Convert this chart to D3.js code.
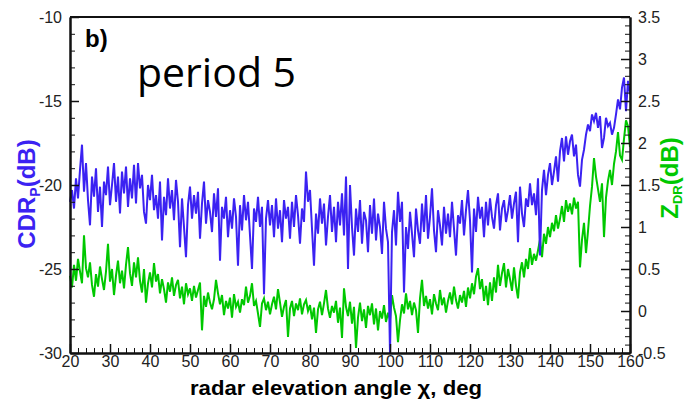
<!DOCTYPE html>
<meta charset="utf-8">
<style>
  body { margin: 0; background: #fff; }
  .axis text { font-family: "Liberation Sans", Arial, sans-serif; font-size: 16px; fill: #222; }
  .axis path, .axis line { stroke: #111; }
  .axis path { stroke-width: 2px; }
  .axis line { stroke-width: 1.5px; }
  .minor line { stroke-width: 1px; }
  .title { font-family: "Liberation Sans", Arial, sans-serif; font-weight: bold; }
</style>
<svg width="684" height="401"></svg>
<script src="https://d3js.org/d3.v7.min.js"></script>
<script>
var svg = d3.select("svg");

// x grid: radar elevation angle, every 0.5 deg from 20 to 160
var angles = d3.range(0, 281).map(function(i) { return 20 + i * 0.5; });

// CDR_P (dB), left axis
var cdr = [
  -21.0, -20.3, -21.4, -19.6, -20.8, -19.1, -17.6, -20.4, -18.7, -20.9,
  -22.4, -19.5, -20.7, -19.0, -21.6, -20.1, -22.5, -19.8, -20.6, -18.9,
  -21.2, -20.0, -18.7, -21.0, -19.5, -21.7, -19.2, -20.5, -18.9, -21.3,
  -19.6, -20.8, -18.8, -21.1, -18.7, -20.2, -19.4, -21.6, -22.3, -20.0,
  -20.9, -19.4, -21.5, -20.6, -22.0, -19.8, -23.3, -20.7, -21.8, -19.6,
  -21.4, -20.3, -22.1, -19.7, -21.0, -23.7, -20.8, -22.5, -24.3, -21.2,
  -20.1, -22.0, -20.6, -21.7, -20.4, -23.2, -21.1, -19.8, -22.3, -20.9,
  -21.6, -22.8, -20.5, -21.9, -20.2, -24.5, -21.3, -22.0, -20.7, -23.1,
  -21.5, -22.6, -20.8, -21.9, -24.8, -21.2, -22.7, -20.6, -22.1, -21.0,
  -23.0, -25.0, -21.4, -22.2, -20.7, -22.5, -21.3, -26.5, -22.0, -20.9,
  -22.4, -21.2, -23.1, -20.8, -22.6, -21.5, -23.4, -20.9, -22.0, -21.3,
  -23.2, -21.0, -22.5, -20.6, -21.8, -23.5, -21.4, -22.2, -19.2, -21.0,
  -20.3, -22.6, -24.8, -21.7, -22.9, -20.8, -22.3, -21.1, -23.6, -21.9,
  -20.6, -22.8, -21.3, -23.4, -21.0, -22.4, -20.5, -23.0, -19.5, -25.0,
  -20.0, -22.5, -24.2, -21.4, -22.8, -20.9, -23.5, -21.6, -22.1, -24.0,
  -21.2, -22.9, -20.8, -23.3, -21.7, -22.5, -24.1, -21.0, -22.6, -23.4,
  -30.0, -22.8, -21.5, -23.6, -20.4, -22.2, -21.0, -26.4, -22.5, -23.8,
  -21.6, -22.9, -24.3, -21.4, -22.7, -23.5, -21.1, -22.8, -20.6, -23.2,
  -21.9, -20.2, -22.7, -24.0, -21.5, -22.4, -23.6, -21.3, -22.9, -21.7,
  -23.1, -21.0, -22.6, -24.2, -21.8, -22.3, -20.9, -23.0, -21.5, -20.3,
  -22.1, -25.2, -21.4, -22.8, -20.7, -22.0, -21.3, -23.1, -21.0, -22.4,
  -20.8, -21.9, -22.6, -21.2, -20.5, -22.7, -21.4, -20.9, -22.2, -21.5,
  -20.6, -22.0, -21.1, -20.4, -23.4, -20.1, -21.7, -22.5, -20.8, -21.3,
  -19.9, -21.2, -20.5, -21.8, -19.6, -24.2, -20.3, -19.1, -20.6, -19.4,
  -18.7, -20.0, -19.2, -18.3, -19.8, -18.0, -17.2, -18.6, -17.1, -18.2,
  -17.4, -17.0, -18.3, -17.6, -19.4, -20.1, -18.5, -17.9, -17.0, -16.4,
  -16.8, -15.8, -16.2, -15.7, -16.6, -15.9, -17.8, -17.2, -16.0, -16.5,
  -16.3, -17.0, -16.6, -15.8, -14.9, -15.5, -14.2, -13.6, -15.6, -13.8, -14.6
];

// Z_DR (dB), right axis
var zdr = [
  0.42, 0.28, 0.55, 0.36, 0.62, 0.47, 0.33, 0.90, 0.51, 0.40,
  0.58, 0.31, 0.17, 0.44, 0.29, 0.53, 0.38, 0.25, 0.47, 0.80,
  0.35, 0.50, 0.19, 0.42, 0.60, 0.33, 0.48, 0.27, 0.55, 0.76,
  0.45, 0.30, 0.58, 0.40, 0.64, 0.36, 0.22, 0.50, 0.10, 0.33,
  0.46, 0.28, 0.57, 0.35, 0.44, 0.21, 0.38, 0.26, 0.10, 0.34,
  0.23, 0.40, 0.18, 0.31, 0.37, 0.15, 0.29, 0.08, 0.33, 0.20,
  0.27, 0.12, 0.30, 0.16, 0.25, 0.34, -0.23, 0.18, 0.05, 0.22,
  0.10, 0.02, 0.14, 0.37, 0.21, 0.08, 0.19, -0.05, 0.12, 0.03,
  0.16, -0.08, 0.20, 0.05, 0.11, -0.02, 0.14, 0.07, 0.29, 0.10,
  0.18, 0.33, 0.06, 0.12, -0.03, -0.19, 0.09, 0.15, 0.01, 0.11,
  -0.04, 0.08, 0.17, 0.02, 0.26, 0.10, -0.07, 0.05, 0.13, -0.31,
  0.03, 0.12, -0.06, 0.09, 0.01, 0.15, -0.04, 0.08, 0.13, 0.00,
  0.07, -0.10, 0.04, -0.26, 0.02, 0.11, -0.05, 0.09, 0.25, 0.03,
  -0.08, 0.06, -0.02, 0.12, -0.14, 0.04, -0.32, 0.27, 0.05, -0.06,
  0.11, -0.15, 0.05, -0.44, -0.08, 0.10, -0.12, 0.02, -0.20, 0.06,
  -0.05, 0.09, -0.16, 0.03, -0.23, 0.00, -0.09, 0.07, -0.13, -0.02,
  -0.10, 0.19, 0.04, -0.06, -0.37, -0.11, 0.08, -0.03, 0.21, 0.02,
  0.12, -0.05, 0.10, 0.01, -0.26, 0.15, 0.37, 0.06, 0.18, 0.03,
  0.14, -0.04, 0.20, 0.09, 0.01, 0.25, 0.07, 0.16, -0.02, 0.12,
  0.22, 0.08, 0.29, 0.13, 0.03, 0.19, 0.10, 0.24, 0.05, 0.28,
  0.15, 0.33, 0.20, 0.41, 0.51, 0.26, 0.38, 0.12, 0.30, 0.07,
  0.34, 0.12, 0.40, 0.22, 0.55, 0.30, 0.45, 0.57, 0.28, 0.50,
  0.38, 0.24, 0.52, 0.30, 0.15, 0.46, 0.58, 0.40, 0.62, 0.50,
  0.75, 0.55, 0.68, 0.60, 0.72, 0.85, 0.64, 0.92, 0.80, 1.00,
  0.88, 1.05, 0.95, 1.14, 0.98, 1.10, 1.25, 1.06, 1.32, 1.18,
  1.28, 1.15, 1.35, 1.22, 1.30, 0.52, 0.85, 1.05, 0.69, 0.95,
  1.25, 1.48, 1.82, 1.60, 1.45, 1.30, 1.52, 0.88, 1.35, 1.55,
  1.68, 1.50, 1.75, 1.90, 2.13, 1.85, 1.80, 2.05, 2.27, 2.20, 1.95
];

var xTicks = [20, 30, 40, 50, 60, 70, 80, 90, 100, 110, 120, 130, 140, 150, 160];
var cdrTicks = [-30, -25, -20, -15, -10];
var zdrTicks = [-0.5, 0, 0.5, 1, 1.5, 2, 2.5, 3, 3.5];

var blue = "#3b22f2";
var green = "#00c800";

// plain hyphen for negatives, like the original
var plain = function(d) { return String(d); };

// plot box (window.top is read-only, so no plain "top")
var mLeft = 70, mRight = 630, mTop = 17, mBottom = 353;

var x = d3.scaleLinear().domain([20, 160]).range([mLeft, mRight]);
var yL = d3.scaleLinear().domain([-30, -10]).range([mBottom, mTop]);
var yR = d3.scaleLinear().domain([-0.5, 3.5]).range([mBottom, mTop]);

var pts = angles.map(function(a, i) { return { a: a, c: cdr[i], z: zdr[i] }; });

/* ---- lines ---- */
svg.append("path")
    .datum(pts)
    .attr("fill", "none")
    .attr("stroke", green)
    .attr("stroke-width", 2)
    .attr("d", d3.line().x(function(d) { return x(d.a); }).y(function(d) { return yR(d.z); }));

svg.append("path")
    .datum(pts)
    .attr("fill", "none")
    .attr("stroke", blue)
    .attr("stroke-width", 2)
    .attr("d", d3.line().x(function(d) { return x(d.a); }).y(function(d) { return yL(d.c); }));

/* ---- axes ---- */
svg.append("g").attr("class", "axis minor")
    .attr("transform", "translate(0," + mBottom + ")")
    .call(d3.axisBottom(x).tickValues(d3.range(20, 161, 2)).tickSize(-5).tickSizeOuter(0).tickFormat(""));
svg.append("g").attr("class", "axis")
    .attr("transform", "translate(0," + mBottom + ")")
    .call(d3.axisBottom(x).tickValues(xTicks).tickSize(-9).tickSizeOuter(0).tickPadding(3).tickFormat(plain));

svg.append("g").attr("class", "axis minor")
    .attr("transform", "translate(" + mLeft + ",0)")
    .call(d3.axisLeft(yL).tickValues(d3.range(-30, -9, 1)).tickSize(-5).tickSizeOuter(0).tickFormat(""));
svg.append("g").attr("class", "axis")
    .attr("transform", "translate(" + mLeft + ",0)")
    .call(d3.axisLeft(yL).tickValues(cdrTicks).tickSize(-9).tickSizeOuter(0).tickPadding(8).tickFormat(plain));

svg.append("g").attr("class", "axis minor")
    .attr("transform", "translate(" + mRight + ",0)")
    .call(d3.axisRight(yR).tickValues(d3.range(-5, 36, 1).map(function(v) { return v / 10; })).tickSize(-5).tickSizeOuter(0).tickFormat(""));
svg.append("g").attr("class", "axis")
    .attr("transform", "translate(" + mRight + ",0)")
    .call(d3.axisRight(yR).tickValues(zdrTicks).tickSize(-9).tickSizeOuter(0).tickPadding(8).tickFormat(plain));

svg.append("line")
    .attr("x1", mLeft).attr("x2", mRight).attr("y1", mTop).attr("y2", mTop)
    .attr("stroke", "#111").attr("stroke-width", 2);

/* ---- titles ---- */
svg.append("text").attr("class", "title")
    .attr("x", 336).attr("y", 395)
    .attr("text-anchor", "middle")
    .attr("textLength", 292).attr("lengthAdjust", "spacingAndGlyphs")
    .style("font-size", "20px")
    .text("radar elevation angle \u03c7, deg");

var lt = svg.append("text").attr("class", "title")
    .attr("transform", "translate(35,194) rotate(-90)")
    .attr("text-anchor", "middle")
    .style("font-size", "24px")
    .attr("fill", blue);
lt.append("tspan").text("CDR");
lt.append("tspan").attr("dy", 5).style("font-size", "14px").text("P");
lt.append("tspan").attr("dy", -5).text("(dB)");

var rt = svg.append("text").attr("class", "title")
    .attr("transform", "translate(678,178) rotate(-90)")
    .attr("text-anchor", "middle")
    .style("font-size", "24px")
    .attr("fill", green);
rt.append("tspan").text("Z");
rt.append("tspan").attr("dy", 4).style("font-size", "13px").text("DR");
rt.append("tspan").attr("dy", -4).text("(dB)");

svg.append("text").attr("class", "title")
    .attr("x", 85).attr("y", 47)
    .style("font-size", "24px")
    .text("b)");

svg.append("text")
    .attr("x", 137).attr("y", 87)
    .style("font-family", "'Open Sans', sans-serif")
    .style("font-size", "41px")
    .text("period 5");
</script>
